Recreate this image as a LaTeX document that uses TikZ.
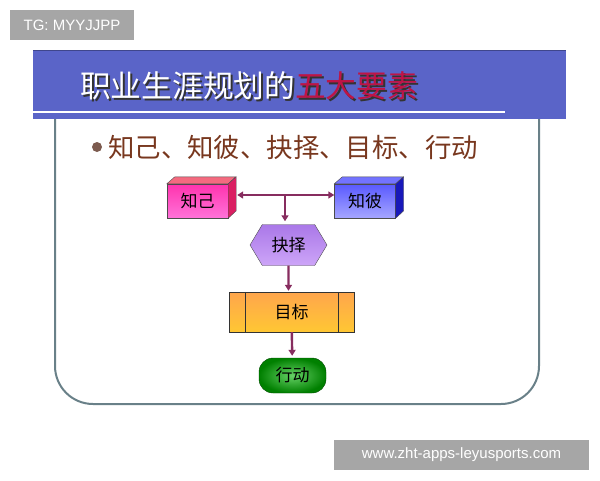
\documentclass[tikz,border=0pt]{standalone}
\usepackage{fontspec}
\setmainfont{Liberation Sans}
\newfontfamily\cjk{Noto Sans CJK SC}
\usetikzlibrary{shapes.geometric,shapes.symbols,arrows.meta}
\definecolor{banner}{RGB}{90,100,200}
\definecolor{framegray}{RGB}{105,128,136}
\definecolor{titlered}{RGB}{190,20,70}
\definecolor{textbrown}{RGB}{120,55,30}
\definecolor{arrowc}{RGB}{135,45,95}
\definecolor{markgray}{RGB}{166,166,166}
\definecolor{hexlight}{RGB}{205,165,248}
\definecolor{hexdark}{RGB}{170,120,232}
\tikzset{
  box/.style = {draw=black!70, thin, minimum width=61pt, minimum height=34pt, inner sep=0pt, font=\cjk\fontsize{17}{17}\selectfont},
  link/.style = {arrowc, line width=2.4pt, -{Triangle[width=7pt,length=6pt]}},
  wmark/.style = {fill=markgray, text=white, inner sep=0pt, font=\fontsize{15}{15}\selectfont}
}
\newcommand{\titletext}{职业生涯规划的五大要素}
\begin{document}
\begin{tikzpicture}[x=1pt, y=-1pt]
\useasboundingbox (0,0) rectangle (600,480);

% banner and frame
\fill[banner] (33,50) rectangle (566,119);
\draw[banner!70!black, line width=1pt] (33,50) -- (566,50);
\draw[white, line width=2pt] (33,112) -- (505,112);
\draw[framegray, line width=2pt, rounded corners=38pt] (55,119) -- (55,404) -- (539,404) -- (539,119);

% title with shadow
\node[anchor=west, inner sep=0pt, font=\cjk\fontsize{30.7}{31}\selectfont] (T) at (80,87) {\makebox[0pt][l]{\hspace{2pt}\raisebox{-2pt}{\textcolor{black!80}{\titletext}}}\textcolor{white}{职业生涯规划的}\textcolor{titlered}{五大要素}};

\node[circle, fill=textbrown!50!gray, minimum size=10pt, inner sep=0pt] (P) at (97,147) {};
\node[anchor=west, inner sep=0pt, text=textbrown, font=\cjk\fontsize{26.4}{27}\selectfont] (L) at (108,147) {知己、知彼、抉择、目标、行动};

% 3d boxes
\node[box, top color=magenta!60!red!80, bottom color=magenta!40!pink] (A) at (197.5,201) {知己};
\fill[magenta!40!red!60, draw=black!70, thin] (A.north west) -- ++(8,-7) -- ++(61,0) -- (A.north east) -- cycle;
\fill[magenta!60!red!90!black, draw=black!70, thin] (A.north east) -- ++(8,-7) -- ++(0,34) -- (A.south east) -- cycle;

\node[box, top color=blue!65, bottom color=blue!35] (B) at (365,201) {知彼};
\fill[blue!55, draw=black!70, thin] (B.north west) -- ++(8,-7) -- ++(61,0) -- (B.north east) -- cycle;
\fill[blue!70!black!90, draw=black!70, thin] (B.north east) -- ++(8,-7) -- ++(0,34) -- (B.south east) -- cycle;

\node[shape=signal, signal from=nowhere, signal to=east and west, signal pointer angle=118, draw=black!70, thin, top color=hexdark, bottom color=hexlight, minimum width=77pt, minimum height=41pt, inner sep=0pt, font=\cjk\fontsize{17}{17}\selectfont] (C) at (288.5,245) {抉择};

\node[box, minimum width=125pt, minimum height=40pt, draw=black!80, top color=orange!70, bottom color=orange!55!yellow!80] (D) at (291.5,312) {目标};
\draw[black!80, thin] ([xshift=16pt]D.north west) -- ([xshift=16pt]D.south west);
\draw[black!80, thin] ([xshift=-16pt]D.north east) -- ([xshift=-16pt]D.south east);

\node[box, minimum width=67pt, minimum height=35pt, rounded corners=14pt, draw=green!30!black, inner color=green!70!black!60, outer color=green!50!black] (E) at (292.5,375.5) {行动};

% connectors
\coordinate (M) at (285,195);
\draw[link, {Triangle[width=7pt,length=6pt]}-{Triangle[width=7pt,length=6pt]}] ([xshift=9pt,yshift=6pt]A.east) -- ([yshift=6pt]B.west);
\draw[link, shorten >=3pt] (M) -- (M |- C.north);
\draw[link, shorten >=1pt] (C) -- (C |- D.north);
\draw[link, shorten >=2pt] (D) -- (E);

% watermarks
\node[wmark, minimum width=124pt, minimum height=30pt] (W1) at (72,25) {TG: MYYJJPP};
\node[wmark, minimum width=255pt, minimum height=30pt] (W2) at (461.5,455) {www.zht-apps-leyusports.com};
\end{tikzpicture}
\end{document}
